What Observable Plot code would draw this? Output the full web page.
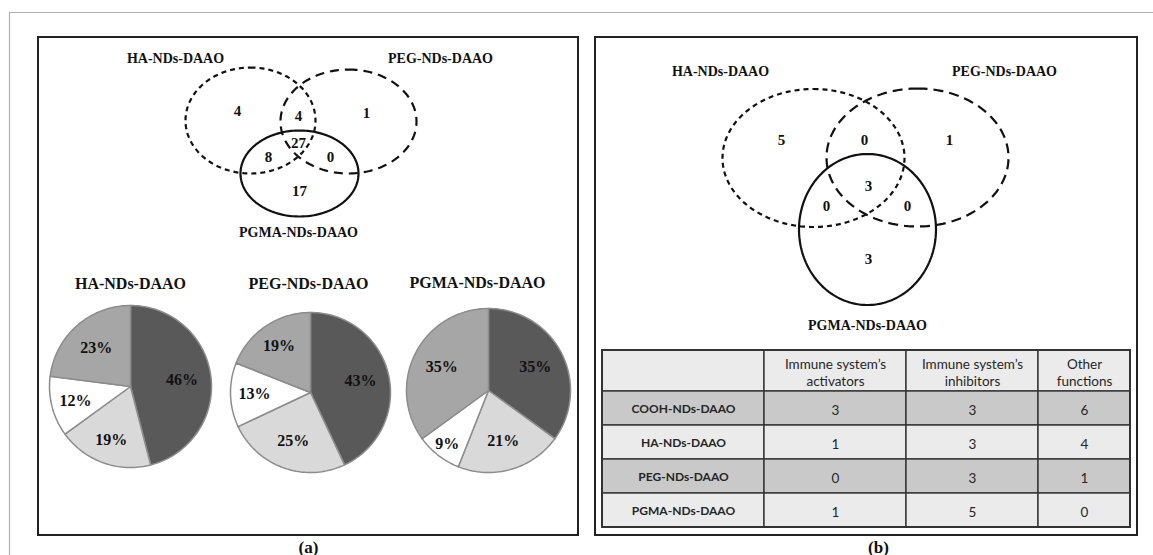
<!DOCTYPE html>
<html><head><meta charset="utf-8">
<script src="https://cdn.jsdelivr.net/npm/d3@7"></script>
<script src="https://cdn.jsdelivr.net/npm/@observablehq/plot@0.6"></script>
<style>html,body{margin:0;padding:0;background:#fff;} #chart svg{display:block}</style>
</head><body><div id="chart"></div>
<script>
// ---------- DATA ----------
const vennSets = ["HA-NDs-DAAO", "PEG-NDs-DAAO", "PGMA-NDs-DAAO"];
const vennRegions = ["HA", "HA∩PEG", "PEG", "HA∩PEG∩PGMA", "HA∩PGMA", "PEG∩PGMA", "PGMA"];
const vennCountsA = [4, 4, 1, 27, 8, 0, 17];
const vennCountsB = [5, 0, 1, 3, 0, 0, 3];

const pieGroups = ["HA-NDs-DAAO", "PEG-NDs-DAAO", "PGMA-NDs-DAAO"];
const pieSlices = ["dark", "light", "white", "mid"]; // clockwise from 12 o'clock
const haShares = [46, 19, 12, 23];
const pegShares = [43, 25, 13, 19];
const pgmaShares = [35, 21, 9, 35];

const tableRowLabels = ["COOH-NDs-DAAO", "HA-NDs-DAAO", "PEG-NDs-DAAO", "PGMA-NDs-DAAO"];
const tableColLabels = ["Immune system’s\nactivators", "Immune system’s\ninhibitors", "Other\nfunctions"];
const activators = [3, 1, 0, 1];
const inhibitors = [3, 3, 3, 5];
const otherFunctions = [6, 4, 1, 0];

const panelLabels = ["(a)", "(b)"];

// ---------- LAYOUT / STYLE ----------
const W = 1153, H = 555;
const serif = "'Liberation Serif', 'Times New Roman', serif";
const sans = "Lato, 'Open Sans', sans-serif";
const sliceColors = {dark: "#595959", light: "#d9d9d9", white: "#ffffff", mid: "#a6a6a6"};

const vennLayouts = [
  {
    ellipses: [
      {cx: 250, cy: 120, rx: 65, ry: 53, dash: "5,4"},
      {cx: 348, cy: 121, rx: 68, ry: 52, dash: "9,6"},
      {cx: 299, cy: 173, rx: 59, ry: 43, dash: null}
    ],
    setLabels: [[175, 58], [440, 58], [298, 232]],
    regionPos: [[237, 111], [298, 116], [366, 113], [298, 143], [268, 157], [330, 157], [299, 191]],
    counts: vennCountsA
  },
  {
    ellipses: [
      {cx: 813, cy: 157.5, rx: 91, ry: 69, dash: "5,4"},
      {cx: 917, cy: 157, rx: 91, ry: 69, dash: "10,6"},
      {cx: 867, cy: 229, rx: 68.5, ry: 75.5, dash: null}
    ],
    setLabels: [[720, 71], [1004, 71], [867, 325]],
    regionPos: [[781, 140], [864, 140], [949, 140], [868, 186], [826, 206], [907, 206], [868, 259]],
    counts: vennCountsB
  }
];

const pieLayout = [
  {cx: 130, cy: 386, r: 81, tx: 130, ty: 283},
  {cx: 310, cy: 392, r: 80, tx: 308, ty: 283},
  {cx: 488, cy: 390, r: 82, tx: 477, ty: 282}
];
const pieShares = [haShares, pegShares, pgmaShares];

const colBounds = [602, 764, 906, 1038, 1130];
const rowBounds = [350, 391, 425, 459, 493, 527];
const rowFills = ["#ebebeb", "#c9c9c9", "#ebebeb", "#c9c9c9", "#ebebeb"];

const panels = [
  {x1: 38, x2: 578, y1: 37, y2: 535, lx: 308, ly: 547},
  {x1: 595, x2: 1137, y1: 37, y2: 535, lx: 878, ly: 547}
];

// ---------- DERIVED GEOMETRY ----------
function ellipsePts(e, key) {
  const pts = [];
  for (let i = 0; i <= 180; i++) {
    const t = -Math.PI / 2 + (i / 180) * 2 * Math.PI;
    pts.push({key, x: e.cx + e.rx * Math.cos(t), y: e.cy + e.ry * Math.sin(t)});
  }
  return pts;
}

const wedgePts = [];
const pieLabels = [];
pieShares.forEach((shares, g) => {
  const L = pieLayout[g];
  const arcs = d3.pie().sort(null)(shares);
  arcs.forEach((a, i) => {
    const key = pieGroups[g] + "-" + pieSlices[i];
    const color = sliceColors[pieSlices[i]];
    wedgePts.push({key, color, x: L.cx, y: L.cy});
    const n = Math.max(4, Math.ceil((a.endAngle - a.startAngle) / 0.03));
    for (let k = 0; k <= n; k++) {
      const ang = a.startAngle + (a.endAngle - a.startAngle) * k / n;
      wedgePts.push({key, color, x: L.cx + L.r * Math.sin(ang), y: L.cy - L.r * Math.cos(ang)});
    }
    wedgePts.push({key, color, x: L.cx, y: L.cy});
    const mid = (a.startAngle + a.endAngle) / 2;
    const f = shares[i] < 10 ? 0.82 : (shares[i] < 20 ? 0.7 : 0.64);
    pieLabels.push({text: shares[i] + "%", x: L.cx + f * L.r * Math.sin(mid), y: L.cy - f * L.r * Math.cos(mid)});
  });
});

const tableCells = [];
const tableTexts = [];
for (let r = 0; r < 5; r++) {
  for (let c = 0; c < 4; c++) {
    tableCells.push({x1: colBounds[c], x2: colBounds[c + 1], y1: rowBounds[r], y2: rowBounds[r + 1], fill: rowFills[r]});
    let t = "", kind = "value";
    if (r === 0 && c > 0) { t = tableColLabels[c - 1]; kind = "header"; }
    else if (r > 0 && c === 0) { t = tableRowLabels[r - 1]; kind = "row"; }
    else if (r > 0) t = String([activators, inhibitors, otherFunctions][c - 1][r - 1]);
    if (t) tableTexts.push({text: t, kind, x: (colBounds[c] + colBounds[c + 1]) / 2, y: (rowBounds[r] + rowBounds[r + 1]) / 2 + 1});
  }
}

const marks = [];
// frame lines of the page
marks.push(Plot.ruleY([12], {x1: 9, x2: W, stroke: "#b0b0b0", strokeWidth: 1.2}));
marks.push(Plot.ruleX([9], {y1: 12, y2: H, stroke: "#b0b0b0", strokeWidth: 1.2}));
// panel boxes
marks.push(Plot.rect(panels, {x1: "x1", x2: "x2", y1: "y1", y2: "y2", fill: "none", stroke: "#222", strokeWidth: 2}));
marks.push(Plot.text(panels, {x: "lx", y: "ly", text: (d, i) => panelLabels[i], fontFamily: serif, fontWeight: "bold", fontSize: 17, fill: "#111"}));

// venns
vennLayouts.forEach((V, vi) => {
  V.ellipses.forEach((e, ei) => {
    marks.push(Plot.line(ellipsePts(e, vi + "-" + ei), {
      x: "x", y: "y", stroke: "#111", strokeWidth: 2.2,
      strokeDasharray: e.dash || undefined, strokeLinecap: "butt"
    }));
  });
  marks.push(Plot.text(vennSets, {
    x: (d, i) => V.setLabels[i][0], y: (d, i) => V.setLabels[i][1], text: d => d,
    fontFamily: serif, fontWeight: "bold", fontSize: 14, fill: "#111"
  }));
  marks.push(Plot.text(vennRegions, {
    x: (d, i) => V.regionPos[i][0], y: (d, i) => V.regionPos[i][1], text: (d, i) => String(V.counts[i]),
    fontFamily: serif, fontWeight: "bold", fontSize: 15, fill: "#111"
  }));
});

// pies
marks.push(Plot.line(wedgePts, {x: "x", y: "y", z: "key", fill: "color", stroke: "#8c8c8c", strokeWidth: 1.5, curve: "linear", strokeLinejoin: "round"}));
marks.push(Plot.text(pieLabels, {x: "x", y: "y", text: "text", fontFamily: serif, fontWeight: "bold", fontSize: 16, fill: "#111"}));
marks.push(Plot.text(pieGroups, {x: (d, i) => pieLayout[i].tx, y: (d, i) => pieLayout[i].ty, text: d => d, fontFamily: serif, fontWeight: "bold", fontSize: 16, fill: "#111"}));

// table
marks.push(Plot.rect(tableCells, {x1: "x1", x2: "x2", y1: "y1", y2: "y2", fill: "fill", stroke: "#333", strokeWidth: 1.4}));
marks.push(Plot.rect([0], {x1: colBounds[0], x2: colBounds[4], y1: rowBounds[0], y2: rowBounds[5], fill: "none", stroke: "#333", strokeWidth: 2}));
marks.push(Plot.text(tableTexts.filter(d => d.kind !== "row"), {x: "x", y: "y", text: "text", fontFamily: sans, fontSize: 13.5, fill: "#262626", lineHeight: 1.3}));
marks.push(Plot.text(tableTexts.filter(d => d.kind === "row"), {x: "x", y: "y", text: "text", fontFamily: sans, fontWeight: "bold", fontSize: 12, fill: "#262626"}));

const chart = Plot.plot({
  width: W, height: H,
  margin: 0,
  x: {domain: [0, W], range: [0, W], axis: null},
  y: {domain: [0, H], range: [0, H], axis: null},
  color: {type: "identity"},
  style: {background: "#fff", overflow: "visible"},
  marks
});
document.getElementById("chart").appendChild(chart);
</script>
</body></html>
